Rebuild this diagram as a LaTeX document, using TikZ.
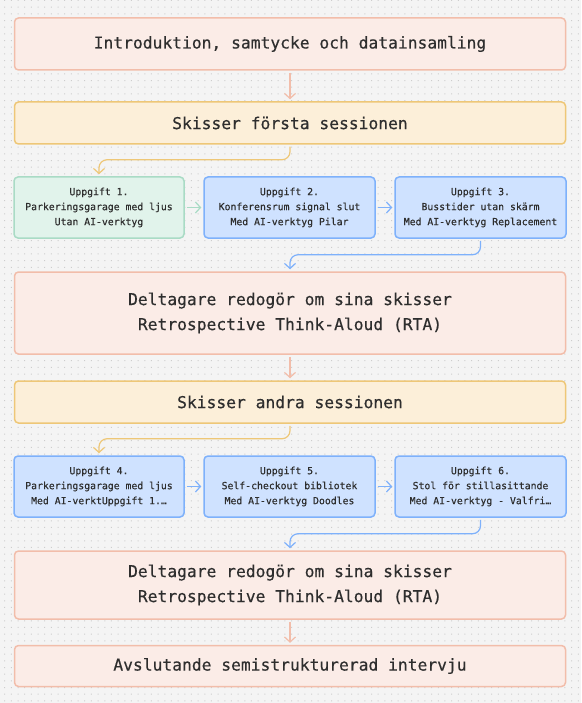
\documentclass[tikz,border=0pt]{standalone}
\usepackage{fontspec}
\newfontfamily\monof{DejaVu Sans Mono}[FakeBold=0.4]
\usetikzlibrary{arrows.meta}
\definecolor{bgc}{HTML}{F4F4F4}
\definecolor{dotc}{HTML}{CDCDCD}
\definecolor{txt}{HTML}{2E2E2E}
\definecolor{pinkf}{HTML}{FBECE7}
\definecolor{pinkd}{HTML}{F2BDAA}
\definecolor{yelf}{HTML}{FCEFD9}
\definecolor{yeld}{HTML}{EEC777}
\definecolor{grnf}{HTML}{E1F3EB}
\definecolor{grnd}{HTML}{A9DBC5}
\definecolor{bluf}{HTML}{CFE2FF}
\definecolor{blud}{HTML}{7EB1FB}
\tikzset{
  box/.style={draw, line width=1.5pt, rounded corners=4pt, align=center, text=txt, inner sep=0pt},
  bigbox/.style={box, minimum width=551pt, font=\monof\fontsize{16.3}{25}\selectfont},
  taskbox/.style={box, minimum height=61pt, font=\monof\fontsize{9.8}{15}\selectfont},
  pinkbox/.style={bigbox, fill=pinkf, draw=pinkd},
  yelbox/.style={bigbox, fill=yelf, draw=yeld},
  grnbox/.style={taskbox, fill=grnf, draw=grnd},
  blubox/.style={taskbox, fill=bluf, draw=blud},
  conn/.style={line width=1.2pt, -{Straight Barb[length=5pt,width=11pt,line width=1.2pt]}, shorten >=2pt, shorten <=2pt, rounded corners=8pt},
  pconn/.style={conn, draw=pinkd},
  yconn/.style={conn, draw=yeld},
  gconn/.style={conn, draw=grnd},
  bconn/.style={conn, draw=blud}
}
\begin{document}
\begin{tikzpicture}[x=1pt,y=-1pt]
\fill[bgc] (0,0) rectangle (581,703);
\useasboundingbox (0,0) rectangle (581,703);
\foreach \x in {4.7,11.37,...,580} {
  \fill[dotc] foreach \y in {0.5,7.17,...,702} { (\x-0.5,\y-0.5) rectangle ++(1,1) };
}

\node[pinkbox, minimum height=52pt] (intro) at (290,44) {Introduktion, samtycke och datainsamling};
\node[yelbox, minimum height=42pt] (s1) at (290,123) {Skisser första sessionen};

\node[grnbox, minimum width=170pt] (t1) at (99,207.5) {Uppgift 1.\\Parkeringsgarage med ljus\\Utan AI-verktyg};
\node[blubox, minimum width=171pt] (t2) at (289.5,207.5) {Uppgift 2.\\Konferensrum signal slut\\Med AI-verktyg Pilar};
\node[blubox, minimum width=171pt] (t3) at (480.5,207.5) {Uppgift 3.\\Busstider utan skärm\\Med AI-verktyg Replacement};

\node[pinkbox, minimum height=82pt] (rta1) at (290,313) {Deltagare redogör om sina skisser\\Retrospective Think-Aloud (RTA)};
\node[yelbox, minimum height=42pt] (s2) at (290,402) {Skisser andra sessionen};

\node[blubox, minimum width=170pt] (t4) at (99,486.5) {Uppgift 4.\\Parkeringsgarage med ljus\\Med AI-verktUppgift 1.…};
\node[blubox, minimum width=171pt] (t5) at (289.5,486.5) {Uppgift 5.\\Self-checkout bibliotek\\Med AI-verktyg Doodles};
\node[blubox, minimum width=171pt] (t6) at (480.5,486.5) {Uppgift 6.\\Stol för stillasittande\\Med AI-verktyg - Valfri…};

\node[pinkbox, minimum height=68pt] (rta2) at (290,585) {Deltagare redogör om sina skisser\\Retrospective Think-Aloud (RTA)};
\node[pinkbox, minimum height=41pt] (fin) at (290,666) {Avslutande semistrukturerad intervju};

\draw[pconn] (intro) -- (s1);
\draw[yconn] (s1.south) -- ++(0,15) -| (t1.north);
\draw[gconn] (t1) -- (t2);
\draw[bconn] (t2) -- (t3);
\draw[bconn] (t3.south) -- ++(0,16) -| (rta1.north);
\draw[pconn] (rta1) -- (s2);
\draw[yconn] (s2.south) -- ++(0,15) -| (t4.north);
\draw[bconn] (t4) -- (t5);
\draw[bconn] (t5) -- (t6);
\draw[bconn] (t6.south) -- ++(0,16) -| (rta2.north);
\draw[pconn] (rta2) -- (fin);
\end{tikzpicture}
\end{document}
